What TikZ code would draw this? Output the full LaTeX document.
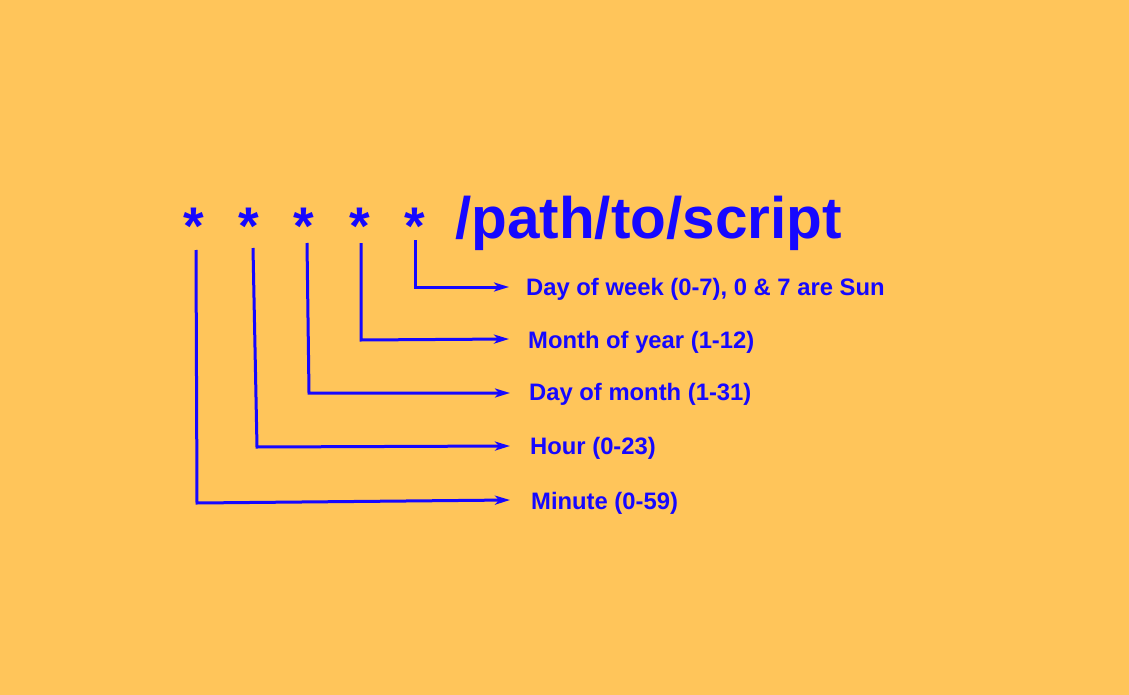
\documentclass[tikz,border=0pt]{standalone}
\usepackage{fontspec}
\setmainfont{Liberation Sans}
\usetikzlibrary{arrows.meta}
\definecolor{bgorange}{RGB}{255,197,90}
\definecolor{cronblue}{RGB}{22,8,255}
\tikzset{
  field/.style={anchor=base, inner sep=0pt, text=cronblue, font=\fontsize{53}{53}\selectfont\bfseries},
  cmd/.style={anchor=base west, inner sep=0pt, text=cronblue, font=\fontsize{58.5}{60}\selectfont\bfseries},
  desc/.style={anchor=base west, inner sep=0pt, text=cronblue, font=\fontsize{23.8}{26}\selectfont\bfseries},
  pointer/.style={draw=cronblue, line width=3pt, line join=miter, -{Stealth[length=15pt,width=9pt,inset=4pt]}}
}
\begin{document}
\begin{tikzpicture}[x=1pt,y=-1pt]
  % background
  \fill[bgorange] (0,0) rectangle (1129,695);
  \useasboundingbox (0,0) rectangle (1129,695);

  % the five time fields and the command
  \node[field] (f1) at (194,244) {*};
  \node[field] (f2) at (249,244) {*};
  \node[field] (f3) at (304,244) {*};
  \node[field] (f4) at (360,244) {*};
  \node[field] (f5) at (415,244) {*};
  \node[cmd] (path) at (455,238) {/path/to/script};

  % field descriptions
  \node[desc] (d5) at (526,295) {Day of week (0-7), 0 \& 7 are Sun};
  \node[desc] (d4) at (528,348) {Month of year (1-12)};
  \node[desc] (d3) at (529,400) {Day of month (1-31)};
  \node[desc] (d2) at (530,454) {Hour (0-23)};
  \node[desc] (d1) at (531,509) {Minute (0-59)};

  % connector start, corner and tip points
  \coordinate (s5) at (415,240); \coordinate (k5) at (415,287); \coordinate (t5) at (509,287);
  \coordinate (s4) at (361,243); \coordinate (k4) at (361,340); \coordinate (t4) at (509,339);
  \coordinate (s3) at (307,243); \coordinate (k3) at (309,393); \coordinate (t3) at (510,393);
  \coordinate (s2) at (253,248); \coordinate (k2) at (257,447); \coordinate (t2) at (510,446);
  \coordinate (s1) at (196,250); \coordinate (k1) at (197,503); \coordinate (t1) at (510,500);

  % connectors
  \draw[pointer] (s5) -- (k5) -- (t5);
  \draw[pointer] (s4) -- (k4) -- (t4);
  \draw[pointer] (s3) -- (k3) -- (t3);
  \draw[pointer] (s2) -- (k2) -- (t2);
  \draw[pointer] (s1) -- (k1) -- (t1);
\end{tikzpicture}
\end{document}
